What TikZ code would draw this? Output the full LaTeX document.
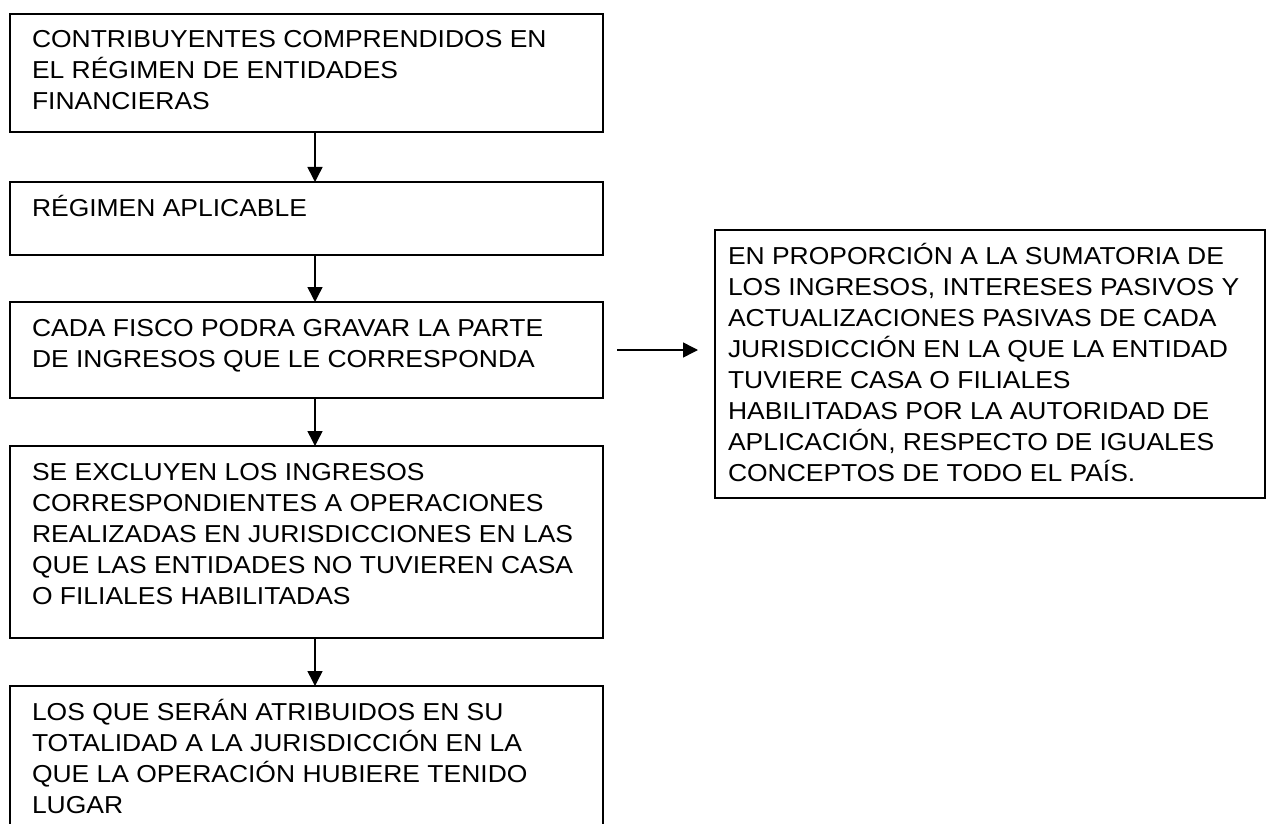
\documentclass[tikz,border=0pt]{standalone}
\usepackage{fontspec}
\setmainfont{Liberation Sans}[FakeStretch=1.08]
\usetikzlibrary{arrows.meta, positioning}
\newcommand{\txt}[3]{\parbox[c][#2][t]{#1}{\raggedright\rule{0pt}{34pt}#3}}
\tikzset
{%
caja/.style={draw, line width=1.5pt, anchor=north west, inner xsep=22pt, inner ysep=0pt, outer sep=0pt, font=\fontsize{24.5}{31}\selectfont},
flecha/.style={-{Triangle[length=15pt, width=15pt]}, line width=1.5pt}
}

\begin{document}
\begin{tikzpicture}[x=1pt, y=-1pt]
		\useasboundingbox (0,0) rectangle (1267,824);
		\coordinate (eje) at (315,0);

		%Box 1
		\node[caja] (b1) at (10,14) {\txt{549pt}{118pt}{CONTRIBUYENTES COMPRENDIDOS EN\\EL RÉGIMEN DE ENTIDADES\\FINANCIERAS}};
		%Box 2
		\node[caja] (b2) at (10,182) {\txt{549pt}{73pt}{RÉGIMEN APLICABLE}};
		%Box 3
		\node[caja] (b3) at (10,302) {\txt{549pt}{96pt}{CADA FISCO PODRA GRAVAR LA PARTE\\DE INGRESOS QUE LE CORRESPONDA}};
		%Box 4
		\node[caja] (b4) at (10,446) {\txt{549pt}{192pt}{SE EXCLUYEN LOS INGRESOS\\CORRESPONDIENTES A OPERACIONES\\REALIZADAS EN JURISDICCIONES EN LAS\\QUE LAS ENTIDADES NO TUVIEREN CASA\\O FILIALES HABILITADAS}};
		%Box 5
		\node[caja] (b5) at (10,686) {\txt{549pt}{140pt}{LOS QUE SERÁN ATRIBUIDOS EN SU\\TOTALIDAD A LA JURISDICCIÓN EN LA\\QUE LA OPERACIÓN HUBIERE TENIDO\\LUGAR}};
		%Box 6
		\node[caja, inner xsep=13pt] (der) at (715,230) {\txt{524pt}{268pt}{EN PROPORCIÓN A LA SUMATORIA DE\\LOS INGRESOS, INTERESES PASIVOS Y\\ACTUALIZACIONES PASIVAS DE CADA\\JURISDICCIÓN EN LA QUE LA ENTIDAD\\TUVIERE CASA O FILIALES\\HABILITADAS POR LA AUTORIDAD DE\\APLICACIÓN, RESPECTO DE IGUALES\\CONCEPTOS DE TODO EL PAÍS.}};

		\draw[flecha] (b1.south -| eje) -- (b2.north -| eje);
		\draw[flecha] (b2.south -| eje) -- (b3.north -| eje);
		\draw[flecha] (b3.south -| eje) -- (b4.north -| eje);
		\draw[flecha] (b4.south -| eje) -- (b5.north -| eje);
		\draw[flecha, shorten <=14pt, shorten >=17pt] (b3.east) -- (b3.east -| der.west);
	\end{tikzpicture}
\end{document}
